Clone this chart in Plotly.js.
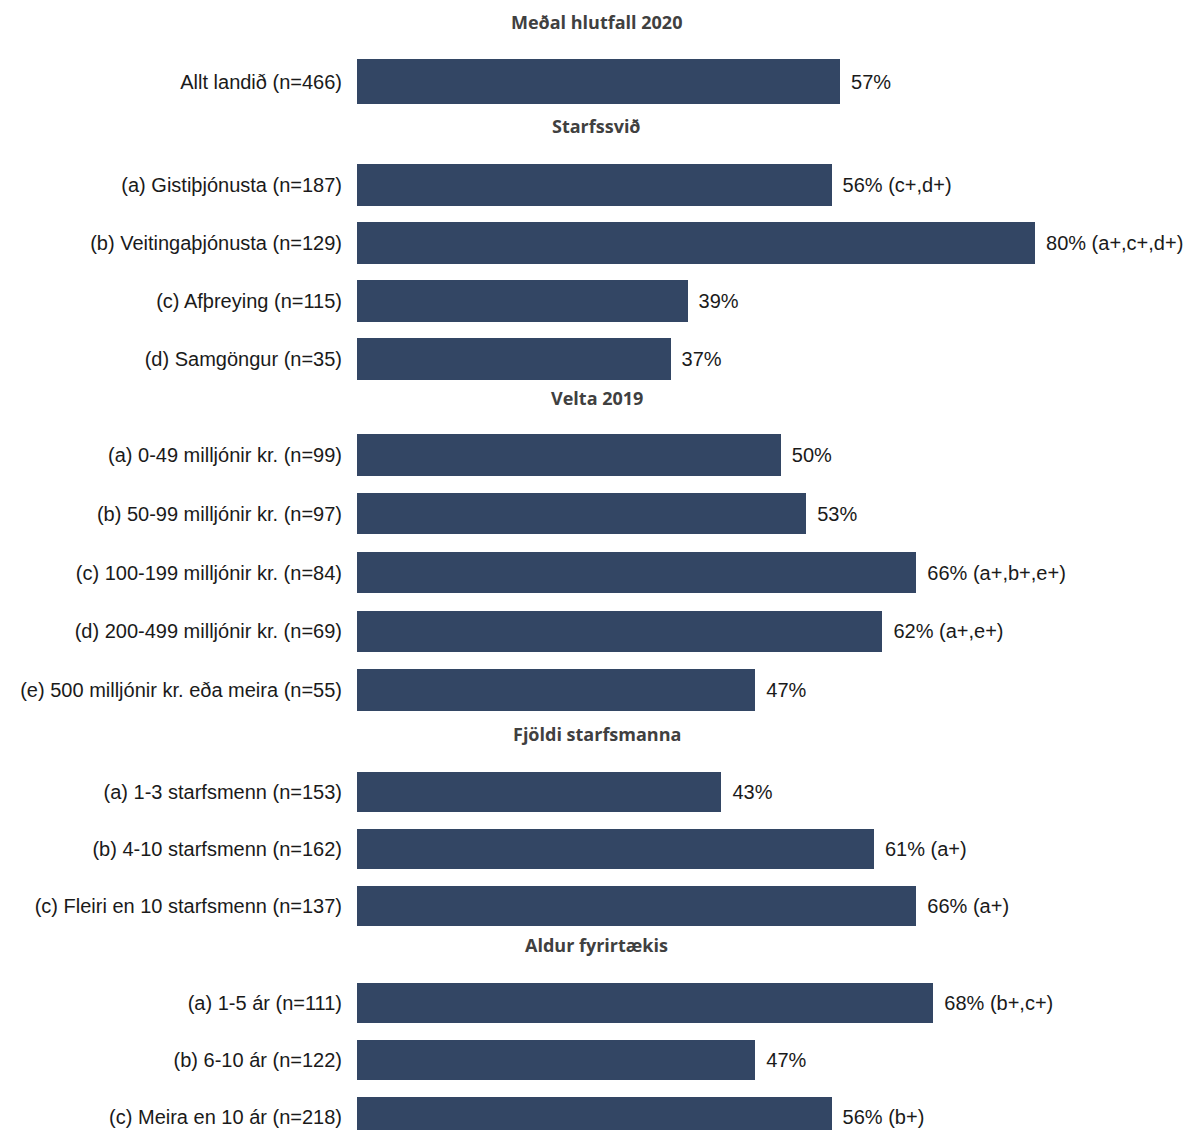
<!DOCTYPE html>
<html>
<head>
<meta charset="utf-8">
<script src="https://cdn.plot.ly/plotly-3.0.1.min.js"></script>
<style>html,body{margin:0;padding:0;background:#fff;}#chart{width:1187px;height:1130px;}</style>
</head>
<body>
<div id="chart"></div>
<script>
// ---- Data ----
const groupTitles = ["Meðal hlutfall 2020", "Starfssvið", "Velta 2019", "Fjöldi starfsmanna", "Aldur fyrirtækis"];

const cats1 = ["Allt landið (n=466)"];
const vals1 = [57];
const txt1 = ["57%"];

const cats2 = ["(a) Gistiþjónusta (n=187)", "(b) Veitingaþjónusta (n=129)", "(c) Afþreying (n=115)", "(d) Samgöngur (n=35)"];
const vals2 = [56, 80, 39, 37];
const txt2 = ["56% (c+,d+)", "80% (a+,c+,d+)", "39%", "37%"];

const cats3 = ["(a) 0-49 milljónir kr. (n=99)", "(b) 50-99 milljónir kr. (n=97)", "(c) 100-199 milljónir kr. (n=84)", "(d) 200-499 milljónir kr. (n=69)", "(e) 500 milljónir kr. eða meira (n=55)"];
const vals3 = [50, 53, 66, 62, 47];
const txt3 = ["50%", "53%", "66% (a+,b+,e+)", "62% (a+,e+)", "47%"];

const cats4 = ["(a) 1-3 starfsmenn (n=153)", "(b) 4-10 starfsmenn (n=162)", "(c) Fleiri en 10 starfsmenn (n=137)"];
const vals4 = [43, 61, 66];
const txt4 = ["43%", "61% (a+)", "66% (a+)"];

const cats5 = ["(a) 1-5 ár (n=111)", "(b) 6-10 ár (n=122)", "(c) Meira en 10 ár (n=218)"];
const vals5 = [68, 47, 56];
const txt5 = ["68% (b+,c+)", "47%", "56% (b+)"];

// ---- Styling / layout ----
const W = 1187, H = 1130;
const barColor = "#334664";
const py = p => 1 - p / H;
const labelFont = {family: "Liberation Sans, Arial, sans-serif", size: 20, color: "#1a1a1a"};

const groups = [
  {cats: cats1, vals: vals1, txt: txt1, top: 52, bot: 111, width: 0.76, range: [0.5, -0.5]},
  {cats: cats2, vals: vals2, txt: txt2, top: 156, bot: 388, width: 0.71},
  {cats: cats3, vals: vals3, txt: txt3, top: 425.6, bot: 719.4, width: 0.70},
  {cats: cats4, vals: vals4, txt: txt4, top: 763.5, bot: 935, width: 0.70},
  {cats: cats5, vals: vals5, txt: txt5, top: 974.5, bot: 1130, width: 0.70, range: [2.228, -0.5]}
];
const titleY = [22, 126, 398, 734, 945];

const traces = [];
const layout = {
  width: W, height: H,
  margin: {l: 0, r: 0, t: 0, b: 0},
  paper_bgcolor: "#fff", plot_bgcolor: "#fff",
  showlegend: false,
  font: labelFont,
  xaxis: {domain: [357 / W, 1119.75 / W], range: [0, 90], visible: false, fixedrange: true, anchor: "y"},
  annotations: [],
  bargap: 0
};

groups.forEach((g, i) => {
  const yname = i === 0 ? "y" : "y" + (i + 1);
  const ykey = i === 0 ? "yaxis" : "yaxis" + (i + 1);
  traces.push({
    type: "bar", orientation: "h",
    x: g.vals, y: g.cats, text: g.txt,
    texttemplate: "\u2009\u2009%{text}",
    textposition: "outside", cliponaxis: false,
    textfont: labelFont,
    marker: {color: barColor, line: {width: 0}},
    width: g.width,
    xaxis: "x", yaxis: yname,
    hoverinfo: "skip"
  });
  layout[ykey] = {
    domain: [py(g.bot), py(g.top)],
    type: "category",
    categoryorder: "array", categoryarray: g.cats,
    range: g.range || [g.cats.length - 0.5, -0.5],
    showgrid: false, zeroline: false, showline: false,
    ticks: "", ticklabelstandoff: 14,
    tickfont: labelFont,
    anchor: "x", fixedrange: true
  };
  layout.annotations.push({
    text: "<b>" + groupTitles[i] + "</b>",
    xref: "paper", yref: "paper",
    x: 597 / W, y: py(titleY[i]),
    xanchor: "center", yanchor: "middle",
    showarrow: false,
    font: {family: "Open Sans, Noto Sans, sans-serif", size: 18, color: "#404040"}
  });
});

Plotly.newPlot("chart", traces, layout, {displayModeBar: false, staticPlot: true});
</script>
</body>
</html>
